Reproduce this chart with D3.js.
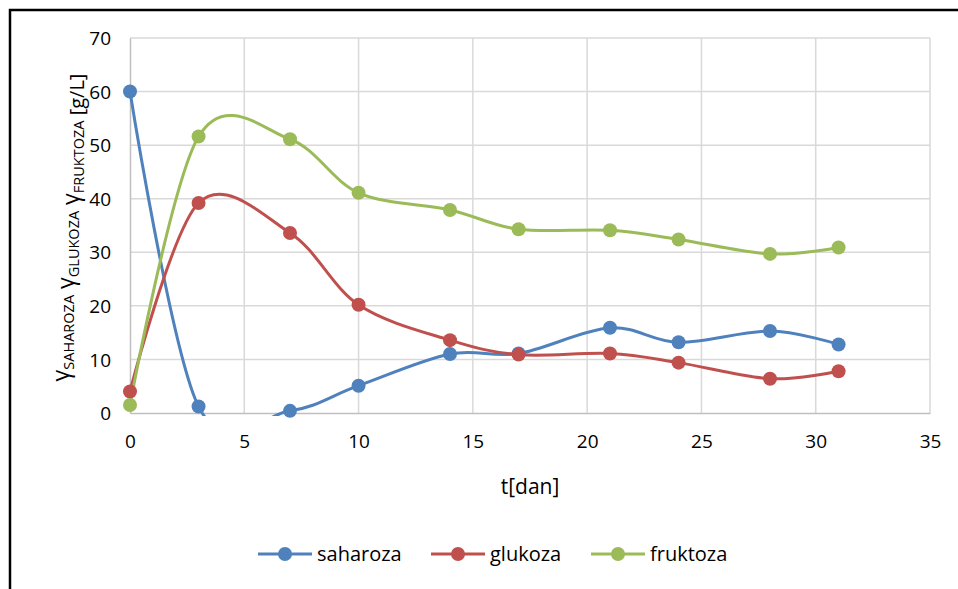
<!DOCTYPE html>
<html>
<head>
<meta charset="utf-8">
<script src="https://cdn.jsdelivr.net/npm/d3@7"></script>
<style>
  body { margin: 0; background: #fff; }
  svg { font-family: "Open Sans", "Noto Sans", sans-serif; }
</style>
</head>
<body>
<div id="chart"></div>
<script>
const days = [0, 3, 7, 10, 14, 17, 21, 24, 28, 31];
const saharoza = [60, 1.2, 0.4, 5.1, 11.0, 11.1, 15.9, 13.2, 15.3, 12.8];
const glukoza = [4.0, 39.2, 33.6, 20.2, 13.6, 10.9, 11.1, 9.4, 6.4, 7.8];
const fruktoza = [1.5, 51.6, 51.1, 41.1, 37.9, 34.3, 34.1, 32.4, 29.7, 30.9];
const xTicks = [0, 5, 10, 15, 20, 25, 30, 35];
const yTicks = [0, 10, 20, 30, 40, 50, 60, 70];

const series = [
    { name: "saharoza", values: saharoza, color: "#4f81bd" },
    { name: "glukoza", values: glukoza, color: "#c0504d" },
    { name: "fruktoza", values: fruktoza, color: "#9bbb59" }
];

const WIDTH = 958, HEIGHT = 589;
const MARGIN = { left: 130, right: 28, top: 38, bottom: 176 };
const INNER_WIDTH = WIDTH - MARGIN.left - MARGIN.right;
const INNER_HEIGHT = HEIGHT - MARGIN.top - MARGIN.bottom;

const svg = d3.select("#chart")
    .append("svg")
    .attr("width", WIDTH)
    .attr("height", HEIGHT);

// Outer chart frame (open at right and bottom, as cropped in the source)
svg.append("path")
    .attr("d", `M10,${HEIGHT + 5} L10,10 L${WIDTH + 5},10`)
    .attr("fill", "none")
    .attr("stroke", "#000")
    .attr("stroke-width", 2.5);

const inner = svg.append("g")
    .attr("transform", `translate(${MARGIN.left},${MARGIN.top})`);

const xScale = d3.scaleLinear().domain([0, 35]).range([0, INNER_WIDTH]);
const yScale = d3.scaleLinear().domain([0, 70]).range([INNER_HEIGHT, 0]);

// Gridlines
inner.append("g")
    .selectAll("line.h")
    .data(yTicks.filter(d => d > 0))
    .join("line")
    .attr("x1", 0).attr("x2", INNER_WIDTH)
    .attr("y1", d => yScale(d)).attr("y2", d => yScale(d))
    .attr("stroke", "#d9d9d9").attr("stroke-width", 1.5);

inner.append("g")
    .selectAll("line.v")
    .data(xTicks.filter(d => d > 0))
    .join("line")
    .attr("x1", d => xScale(d)).attr("x2", d => xScale(d))
    .attr("y1", 0).attr("y2", INNER_HEIGHT)
    .attr("stroke", "#d9d9d9").attr("stroke-width", 1.5);

// Axes
const xAxis = inner.append("g")
    .attr("transform", `translate(0,${INNER_HEIGHT})`)
    .call(d3.axisBottom(xScale).tickValues(xTicks).tickSize(0).tickPadding(28));
const yAxis = inner.append("g")
    .call(d3.axisLeft(yScale).tickValues(yTicks).tickSize(0).tickPadding(19));

[xAxis, yAxis].forEach(ax => {
    ax.attr("font-size", 19).attr("font-family", "Open Sans, sans-serif");
    ax.select(".domain").attr("stroke", "#bfbfbf").attr("stroke-width", 1.5);
    ax.selectAll("text").attr("fill", "#000");
});
yAxis.selectAll("text").attr("dy", "0.35em");
xAxis.selectAll("text").attr("dy", "0.35em");

// Axis titles
svg.append("text")
    .text("t[dan]")
    .attr("x", MARGIN.left + xScale(17.5))
    .attr("y", 494)
    .attr("text-anchor", "middle")
    .style("font-size", "21px");

const yTitle = svg.append("text")
    .attr("transform", `translate(69,${MARGIN.top + INNER_HEIGHT / 2 + 2}) rotate(-90)`)
    .attr("text-anchor", "middle")
    .style("font-size", "20px");
[["γ", "SAHAROZA"], [" γ", "GLUKOZA"], [" γ", "FRUKTOZA"]].forEach(([g, sub]) => {
    yTitle.append("tspan").text(g).style("font-size", "23px");
    yTitle.append("tspan").text(sub).attr("dy", 5).style("font-size", "14.5px");
    yTitle.append("tspan").text("").attr("dy", -5);
});
yTitle.append("tspan").text("  [g/L]").style("font-size", "20px");

// Lines, clipped slightly below the plot area like the source
svg.append("defs").append("clipPath")
    .attr("id", "plot-clip")
    .append("rect")
    .attr("x", -5).attr("y", -5)
    .attr("width", INNER_WIDTH + 10)
    .attr("height", INNER_HEIGHT + 8);

const lineGenerator = d3.line()
    .curve(d3.curveCardinal.tension(0))
    .x((d, i) => xScale(days[i]))
    .y(d => yScale(d));

inner.append("g")
    .attr("clip-path", "url(#plot-clip)")
    .selectAll("path")
    .data(series)
    .join("path")
    .attr("d", s => lineGenerator(s.values))
    .attr("fill", "none")
    .attr("stroke", s => s.color)
    .attr("stroke-width", 3);

series.forEach(s => {
    inner.append("g")
        .selectAll("circle")
        .data(s.values)
        .join("circle")
        .attr("cx", (d, i) => xScale(days[i]))
        .attr("cy", d => yScale(d))
        .attr("r", 7)
        .attr("fill", s.color);
});

// Legend
const legendX = [258, 431, 591];
const legend = svg.append("g").attr("transform", "translate(0,554)");
series.forEach((s, i) => {
    const g = legend.append("g").attr("transform", `translate(${legendX[i]},0)`);
    g.append("line")
        .attr("x1", 0).attr("x2", 54)
        .attr("stroke", s.color).attr("stroke-width", 3);
    g.append("circle").attr("cx", 27).attr("r", 7).attr("fill", s.color);
    g.append("text")
        .text(s.name)
        .attr("x", 59)
        .attr("dy", "0.35em")
        .style("font-size", "20px");
});
</script>
</body>
</html>
